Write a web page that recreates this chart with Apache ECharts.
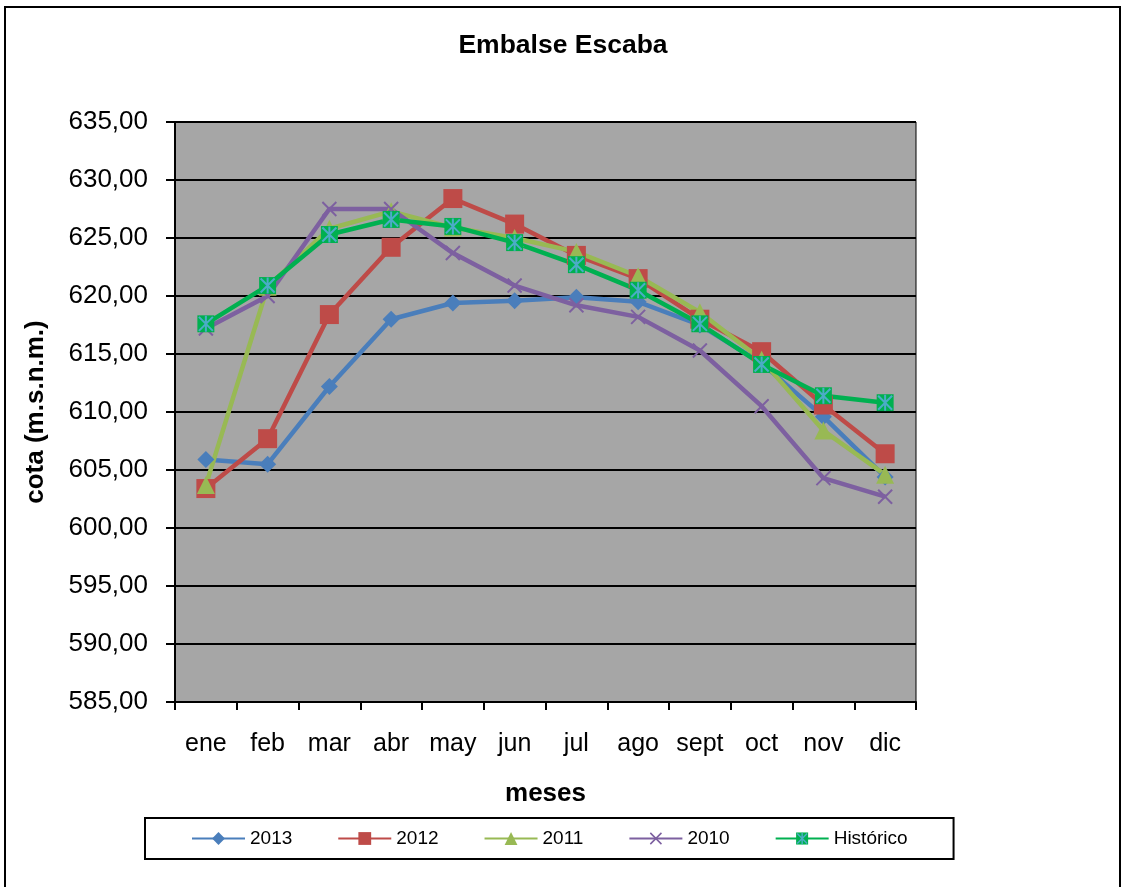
<!DOCTYPE html>
<html>
<head>
<meta charset="utf-8">
<script src="https://cdn.jsdelivr.net/npm/echarts@6/dist/echarts.min.js"></script>
<style>html,body{margin:0;padding:0;background:#fff;}#c{width:1126px;height:887px;}</style>
</head>
<body>
<div id="c"></div>
<script>
var months = ['ene','feb','mar','abr','may','jun','jul','ago','sept','oct','nov','dic'];
var y2013 = [605.9, 605.5, 612.2, 618.0, 619.4, 619.6, 619.9, 619.5, 617.5, 614.2, 609.6, 604.4];
var y2012 = [603.4, 607.7, 618.4, 624.2, 628.4, 626.2, 623.5, 621.5, 618.0, 615.2, 610.6, 606.4];
var y2011 = [603.7, 620.8, 625.8, 627.3, 625.9, 625.0, 623.8, 621.7, 618.6, 614.5, 608.4, 604.6];
var y2010 = [617.2, 620.0, 627.5, 627.5, 623.7, 620.9, 619.2, 618.2, 615.3, 610.5, 604.3, 602.7];
var yHist = [617.6, 620.9, 625.3, 626.6, 626.0, 624.6, 622.7, 620.5, 617.6, 614.1, 611.4, 610.8];
var seriesNames = ['2013','2012','2011','2010','Histórico'];

function svgImg(svg){ return 'image://data:image/svg+xml;charset=utf-8,' + encodeURIComponent(svg); }
var xSym = svgImg('<svg xmlns="http://www.w3.org/2000/svg" width="16" height="16" viewBox="0 0 16 16"><path d="M1,1L15,15M15,1L1,15" stroke="#7D60A0" stroke-width="2" fill="none"/></svg>');
var hSym = svgImg('<svg xmlns="http://www.w3.org/2000/svg" width="18" height="18" viewBox="0 0 18 18"><rect x="0.5" y="0.5" width="17" height="17" fill="#00B050"/><path d="M2,2L16,16M16,2L2,16M9,1L9,17" stroke="#4BACC6" stroke-width="2" fill="none"/></svg>');

var chart = echarts.init(document.getElementById('c'));
var font = 'Liberation Sans, Arial, sans-serif';
function mk(name, data, color, symbol, size){
  return {name: name, type: 'line', data: data, symbol: symbol, symbolSize: size,
    lineStyle: {color: color, width: 4.5}, itemStyle: {color: color},
    emphasis: {disabled: true}, animation: false};
}
chart.setOption({
  animation: false,
  textStyle: {fontFamily: font},
  title: {text: 'Embalse Escaba', left: 'center', top: 32, padding: 0,
    textStyle: {fontFamily: font, fontSize: 26.5, fontWeight: 'bold', color: '#000'}},
  graphic: [{type: 'rect', shape: {x: 5, y: 7, width: 1115, height: 900},
    style: {fill: 'none', stroke: '#000', lineWidth: 2}, silent: true}],
  grid: {left: 175, top: 122, width: 741, height: 580, show: true,
    backgroundColor: '#A6A6A6', borderColor: '#000', borderWidth: 1},
  legend: {data: seriesNames, left: 145, top: 818, padding: [11, 46], itemGap: 45,
    itemWidth: 53, itemHeight: 16, borderColor: '#000', borderWidth: 2,
    textStyle: {fontFamily: font, fontSize: 19, color: '#000'}},
  xAxis: {type: 'category', data: months, boundaryGap: true,
    name: 'meses', nameLocation: 'middle', nameGap: 79,
    nameTextStyle: {fontFamily: font, fontSize: 26, fontWeight: 'bold', color: '#000'},
    axisLine: {lineStyle: {color: '#000', width: 2}},
    axisTick: {show: true, length: 8, lineStyle: {color: '#000', width: 2}},
    axisLabel: {fontFamily: font, fontSize: 25, color: '#000', margin: 30, interval: 0}},
  yAxis: {type: 'value', min: 585, max: 635, interval: 5,
    name: 'cota (m.s.n.m.)', nameLocation: 'middle', nameRotate: 90, nameGap: 126,
    nameTextStyle: {fontFamily: font, fontSize: 26, fontWeight: 'bold', color: '#000'},
    axisLine: {show: true, lineStyle: {color: '#000', width: 2}},
    axisTick: {show: true, length: 9, lineStyle: {color: '#000', width: 2}},
    splitLine: {lineStyle: {color: '#000', width: 2}},
    axisLabel: {fontFamily: font, fontSize: 26, color: '#000', margin: 27,
      formatter: function(v){ return v.toFixed(2).replace('.', ','); }}},
  series: [
    mk('2013', y2013, '#4A7EBB', 'diamond', 17),
    mk('2012', y2012, '#BE4B48', 'rect', 19),
    mk('2011', y2011, '#98B954', 'triangle', 18),
    mk('2010', y2010, '#7D60A0', xSym, 16),
    mk('Histórico', yHist, '#00B050', hSym, 18)
  ]
});
</script>
</body>
</html>
